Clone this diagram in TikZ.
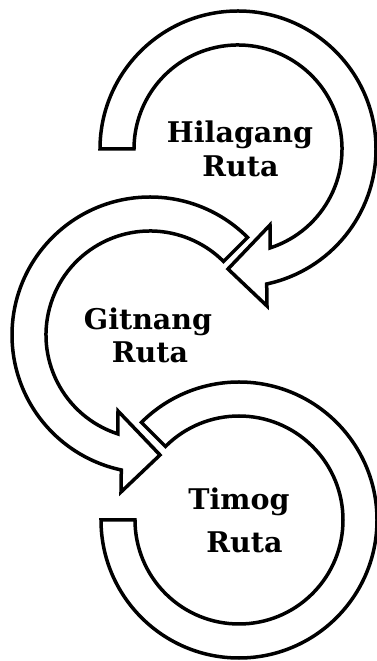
\documentclass[tikz,border=0pt]{standalone}
\usepackage{fontspec}
\setmainfont{DejaVu Serif}
\usepackage{xcolor}
\usepackage{tikz}
\usetikzlibrary{calc}
\definecolor{ink}{HTML}{000000}
\definecolor{paper}{HTML}{FFFFFF}
\tikzset{
  band/.style={line width=3.5pt, draw=ink, fill=paper, line join=miter},
  lbl/.style={anchor=base, inner sep=0pt, text=ink, font=\bfseries\fontsize{28.5}{34}\selectfont}
}

\begin{document}
\begin{tikzpicture}[x=1pt,y=1pt]
  \useasboundingbox (0,0) rectangle (377,661);

  % ring centres
  \coordinate (N) at (238,512);
  \coordinate (G) at (150,326);
  \coordinate (T) at (239,141);

  % Timog: open ring, no head
  \draw[band] ($(T)+(180:138)$) arc[start angle=180, end angle=495, radius=138]
    -- ($(T)+(495:104)$) arc[start angle=495, end angle=180, radius=104] -- cycle;

  % Gitnang: arrow into Timog
  \draw[band] ($(G)+(45:138)$) arc[start angle=45, end angle=258, radius=138]
    -- ($(G)+(-29,-157)$) -- ($(G)+(10,-120)$) -- ($(G)+(-32,-76)$)
    -- ($(G)+(252:104)$) arc[start angle=252, end angle=45, radius=104] -- cycle;

  % Hilagang: arrow into Gitnang
  \draw[band] ($(N)+(180:138)$) arc[start angle=180, end angle=-78, radius=138]
    -- ($(N)+(29,-157)$) -- ($(N)+(-10,-120)$) -- ($(N)+(32,-76)$)
    -- ($(N)+(-72:104)$) arc[start angle=-72, end angle=180, radius=104] -- cycle;

  % labels
  \node[lbl] (hilagang) at (240,518) {Hilagang};
  \node[lbl] (hruta) at (240.5,484) {Ruta};
  \node[lbl] (gitnang) at (148,331) {Gitnang};
  \node[lbl] (gruta) at (150,298) {Ruta};
  \node[lbl] (timog) at (239,151) {Timog};
  \node[lbl] (truta) at (244.5,108) {Ruta};
\end{tikzpicture}
\end{document}
